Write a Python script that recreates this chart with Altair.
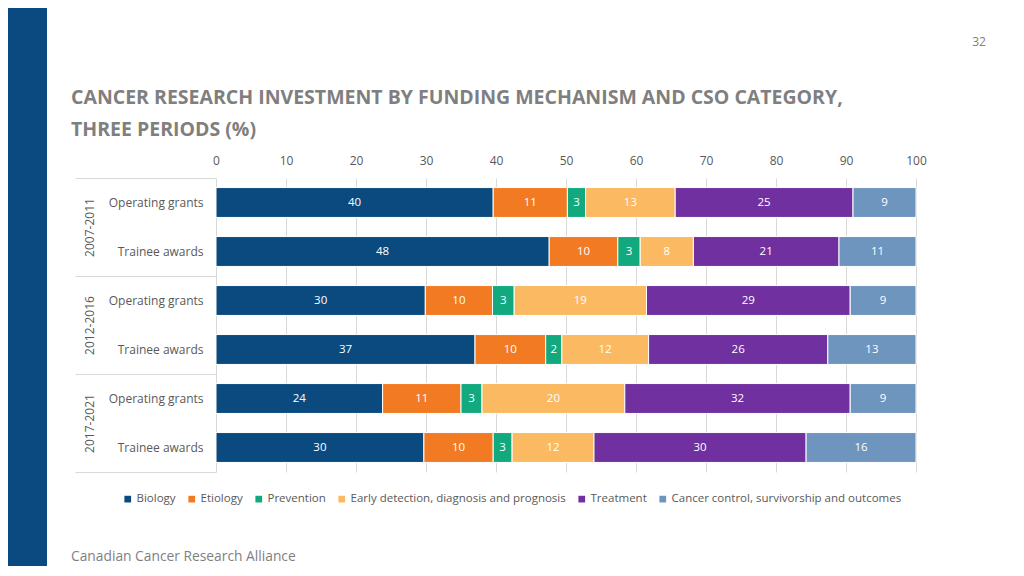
import altair as alt
import pandas as pd

# ---------------- data ----------------
periods = ["2007-2011", "2012-2016", "2017-2021"]
mechanisms = ["Operating grants", "Trainee awards"]
categories = [
    "Biology",
    "Etiology",
    "Prevention",
    "Early detection, diagnosis and prognosis",
    "Treatment",
    "Cancer control, survivorship and outcomes",
]
colors = ["#0A4A7F", "#F27A22", "#12A97F", "#FBB961", "#7030A0", "#6E95BE"]

# one value per row: 2007-2011 OG, 2007-2011 TA, 2012-2016 OG, 2012-2016 TA, 2017-2021 OG, 2017-2021 TA
biology = [39.6, 47.6, 29.9, 37.0, 23.8, 29.7]
etiology = [10.6, 9.8, 9.6, 10.1, 11.2, 9.9]
prevention = [2.6, 3.2, 3.1, 2.3, 3.0, 2.7]
early_detection = [12.8, 7.6, 18.9, 12.4, 20.4, 11.7]
treatment = [25.4, 20.8, 29.1, 25.6, 32.2, 30.3]
cancer_control = [9.0, 11.0, 9.4, 12.6, 9.4, 15.7]

x_ticks = [0, 10, 20, 30, 40, 50, 60, 70, 80, 90, 100]

title_lines = [
    "CANCER RESEARCH INVESTMENT BY FUNDING MECHANISM AND CSO CATEGORY,",
    "THREE PERIODS (%)",
]
page_number = ["32"]
footer_text = ["Canadian Cancer Research Alliance"]

# ---------------- tables ----------------
rows = [f"{p}|{m}" for p in periods for m in mechanisms]
series = [biology, etiology, prevention, early_detection, treatment, cancer_control]
records = []
for ci, (cat, vals) in enumerate(zip(categories, series)):
    for row, v in zip(rows, vals):
        records.append({"row": row, "category": cat, "order": ci, "value": v})
df = pd.DataFrame(records)
period_df = pd.DataFrame({"period": periods})

FONT = "Open Sans"
GREY = "#595959"
LIGHT = "#D9D9D9"
BAND = "#0A4A80"

base = alt.Chart(df).transform_stack(
    stack="value",
    groupby=["row"],
    as_=["x0", "x1"],
    sort=[alt.SortField("order", order="ascending")],
).transform_calculate(
    mid="(datum.x0 + datum.x1) / 2",
    label="format(datum.value, '.0f')",
)

y_row = alt.Y(
    "row:N",
    sort=rows,
    scale=alt.Scale(paddingInner=0.39, paddingOuter=0.195),
    axis=alt.Axis(
        title=None,
        orient="left",
        labelExpr="split(datum.label, '|')[1]",
        ticks=False,
        domain=False,
        labelPadding=13,
        labelFont=FONT,
        labelFontSize=12,
        labelColor=GREY,
    ),
)

x_axis = alt.Axis(
    orient="top",
    values=x_ticks,
    title=None,
    ticks=False,
    domain=False,
    grid=True,
    gridColor=LIGHT,
    gridWidth=1,
    labelFont=FONT,
    labelFontSize=12,
    labelColor=GREY,
    labelPadding=11,
    labelFlush=False,
)

bars = base.mark_bar(stroke="white", strokeWidth=1).encode(
    x=alt.X("x0:Q", scale=alt.Scale(domain=[0, 100], nice=False), axis=x_axis),
    x2="x1:Q",
    y=y_row,
    color=alt.Color(
        "category:N",
        sort=categories,
        scale=alt.Scale(domain=categories, range=colors),
        legend=alt.Legend(
            title=None,
            orient="none",
            legendX=-94,
            legendY=315,
            direction="horizontal",
            columns=6,
            symbolType="square",
            symbolSize=45,
            symbolStrokeWidth=0,
            labelFont=FONT,
            labelFontSize=11.5,
            labelColor=GREY,
            labelLimit=400,
            columnPadding=10,
            labelOffset=3,
            padding=0,
        ),
    ),
)

bar_labels = base.mark_text(color="white", font=FONT, fontSize=11.5).encode(
    x="mid:Q",
    y=y_row,
    text="label:N",
)

inner = alt.layer(bars, bar_labels)

period_layer = alt.Chart(period_df).mark_text(opacity=0).encode(
    y=alt.Y(
        "period:N",
        sort=periods,
        scale=alt.Scale(paddingInner=0, paddingOuter=0),
        axis=alt.Axis(
            title=None,
            orient="left",
            tickBand="extent",
            tickSize=141,
            tickColor=LIGHT,
            tickWidth=1,
            domain=False,
            labelAngle=270,
            labelAlign="center",
            labelBaseline="bottom",
            labelPadding=-21,
            labelFont=FONT,
            labelFontSize=12,
            labelColor=GREY,
        ),
    ),
    text="period:N",
)

band = alt.Chart(pd.DataFrame({"d": [0]})).mark_rect(color=BAND).encode(
    x=alt.value(-208), x2=alt.value(-169), y=alt.value(-170), y2=alt.value(388)
)

page_no = alt.Chart(pd.DataFrame({"t": page_number})).mark_text(
    font=FONT, fontSize=12, color="#808080", align="center", baseline="middle"
).encode(x=alt.value(763), y=alt.value(-136), text="t:N")

footer = alt.Chart(pd.DataFrame({"t": footer_text})).mark_text(
    font=FONT, fontSize=13.8, color="#7F7F7F", align="left", baseline="middle"
).encode(x=alt.value(-145), y=alt.value(379), text="t:N")

chart = (
    alt.layer(band, inner, period_layer, page_no, footer)
    .resolve_scale(y="independent")
    .properties(
        width=700,
        height=294,
        padding=0,
        title=alt.TitleParams(
            text=title_lines,
            anchor="start",
            frame="bounds",
            dx=63,
            offset=-132,
            font=FONT,
            fontSize=19.5,
            fontWeight="bold",
            color="#7F7F7F",
            lineHeight=32,
        ),
    )
    .configure_view(strokeWidth=0)
)

chart.save("out.html", embed_options={"renderer": "svg", "actions": False})
